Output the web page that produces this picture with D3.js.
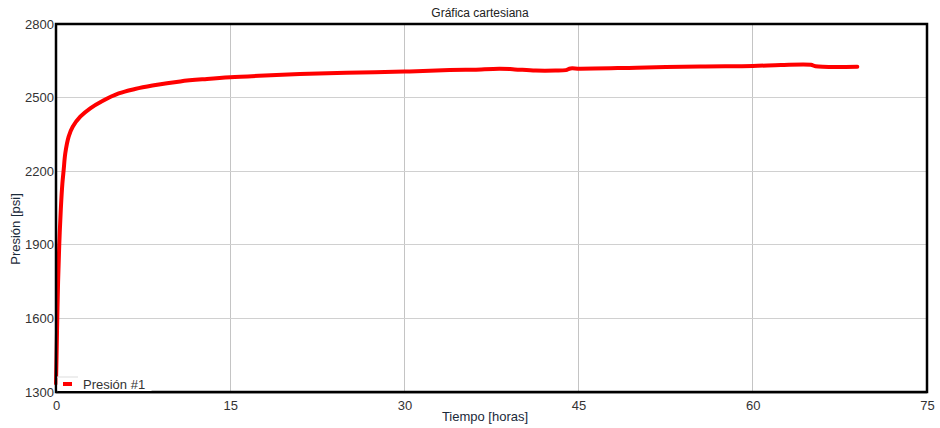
<!DOCTYPE html>
<html><head><meta charset="utf-8">
<script src="https://cdn.jsdelivr.net/npm/d3@7"></script>
<style>
html,body{margin:0;padding:0;background:#fff;}
svg{display:block;font-family:"Liberation Sans",Arial,sans-serif;}
</style></head>
<body><svg id="c" width="940" height="428"></svg>
<script>
const timeHours = [0,0.05,0.11,0.18,0.28,0.42,0.55,0.66,0.8,1.09,1.44,2.09,2.95,3.96,5.4,6.8,8.3,10.7,13,15,18,21,25,30,33.9,36,38.2,39.5,41.3,43,43.9,44.3,45.1,50,55.5,60,62.4,65,65.4,69];
const pressure  = [1335,1450,1600,1750,1900,2050,2150,2205,2273,2341,2381,2422,2456,2485,2517,2535,2549,2566,2576,2583,2590,2596,2601,2606,2612,2614,2618,2615,2610,2610,2612,2619,2618,2622,2627,2629,2633,2634,2628,2626];
const xTicks = [0,15,30,45,60,75];
const yTicks = [1300,1600,1900,2200,2500,2800];
const title = "Gráfica cartesiana";
const xLabel = "Tiempo [horas]";
const yLabel = "Presión [psi]";
const seriesName = "Presión #1";

const svg = d3.select("#c");
const L=56,R=927,T=24,B=392;
const x = d3.scaleLinear().domain([0,75]).range([L,R]);
const y = d3.scaleLinear().domain([1300,2800]).range([B,T]);

// grid
svg.append("g").selectAll("line").data(xTicks.slice(1,-1)).join("line")
  .attr("x1",d=>x(d)).attr("x2",d=>x(d)).attr("y1",T).attr("y2",B)
  .attr("stroke","#c4c4c4").attr("stroke-width",1).attr("shape-rendering","crispEdges");
svg.append("g").selectAll("line").data(yTicks.slice(1,-1)).join("line")
  .attr("y1",d=>y(d)).attr("y2",d=>y(d)).attr("x1",L).attr("x2",R)
  .attr("stroke","#d0d0d0").attr("stroke-width",1).attr("shape-rendering","crispEdges");

// axes labels via d3 axes
const fmt = d3.format("d");
const xAxis = svg.append("g").attr("transform",`translate(0,${B})`)
  .call(d3.axisBottom(x).tickValues(xTicks).tickFormat(fmt).tickSize(0).tickPadding(9));
const yAxis = svg.append("g").attr("transform",`translate(${L},0)`)
  .call(d3.axisLeft(y).tickValues(yTicks).tickFormat(fmt).tickSize(0).tickPadding(2));
[xAxis,yAxis].forEach(a=>{a.select(".domain").remove();
  a.selectAll("text").attr("font-size",13).attr("fill","#333").attr("font-family","'Liberation Sans',Arial,sans-serif");});

// line
const data = timeHours.map((t,i)=>({t,p:pressure[i]}));
svg.append("path").datum(data)
  .attr("d", d3.line().x(d=>x(d.t)).y(d=>y(d.p)).curve(d3.curveCatmullRom.alpha(0.5)))
  .attr("fill","none").attr("stroke","#ff0000").attr("stroke-width",4)
  .attr("stroke-linejoin","round").attr("stroke-linecap","round");

// frame
svg.append("line").attr("x1",L).attr("x2",R).attr("y1",B+1.5).attr("y2",B+1.5).attr("stroke","#bbb").attr("stroke-width",1);
svg.append("rect").attr("x",L).attr("y",T).attr("width",R-L).attr("height",B-T)
  .attr("fill","none").attr("stroke","#000").attr("stroke-width",2.5);

// legend
const lg = svg.append("g");
lg.append("rect").attr("x",L+1.5).attr("y",377).attr("width",94).attr("height",14.5).attr("fill","#fff")
  .attr("stroke","none");
lg.append("line").attr("x1",L+1).attr("x2",L+22).attr("y1",377).attr("y2",377).attr("stroke","#ddd");
lg.append("line").attr("x1",L+1.5).attr("x2",L+96).attr("y1",391.5).attr("y2",391.5).attr("stroke","#000").attr("stroke-width",1);
lg.append("line").attr("x1",63).attr("x2",72).attr("y1",384).attr("y2",384).attr("stroke","#ff0000").attr("stroke-width",4);
lg.append("text").attr("x",83).attr("y",389).attr("font-size",13).attr("fill","#333").text(seriesName);

// titles
svg.append("text").attr("x",480).attr("y",17).attr("text-anchor","middle").attr("font-size",12).attr("fill","#222").text(title);
svg.append("text").attr("x",485).attr("y",421).attr("text-anchor","middle").attr("font-size",13).attr("fill","#1a2a3a").text(xLabel);
svg.append("text").attr("transform","translate(20,229) rotate(-90)").attr("text-anchor","middle").attr("font-size",13).attr("fill","#1a2a3a").text(yLabel);
</script></body></html>
